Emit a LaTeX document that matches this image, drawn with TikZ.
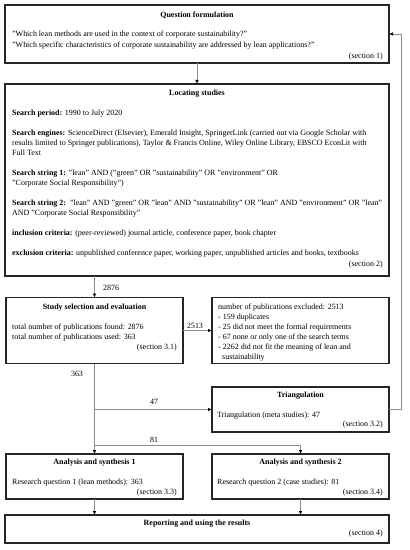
\documentclass[tikz,border=0pt]{standalone}
\usepackage{fontspec}
\setmainfont{Liberation Serif}
\usetikzlibrary{arrows.meta}
\newcommand{\figfont}{\fontsize{8.0}{10}\selectfont}
\tikzset{
 box/.style={draw=black!85, line width=1.15bp, inner sep=0pt, outer sep=0pt, anchor=north west},
 conn/.style={draw=black!45, line width=0.8bp},
 arr/.style={conn, -{Latex[length=4bp,width=3.6bp,color=black]}},
 txt/.style={inner sep=0pt, anchor=base west, font=\figfont},
 ttl/.style={inner sep=0pt, anchor=base, font=\figfont\bfseries},
 sec/.style={inner sep=0pt, anchor=base east, font=\figfont},
 lbl/.style={inner sep=0pt, anchor=base, font=\figfont},
}
\begin{document}
\begin{tikzpicture}[x=1bp,y=-1bp]
\useasboundingbox (0,0) rectangle (409,550);
% boxes
\node[box, minimum width=384bp, minimum height=58bp] (q) at (5,5) {};
\node[box, minimum width=384bp, minimum height=192bp] (loc) at (5,84) {};
\node[box, minimum width=177bp, minimum height=66bp] (sel) at (6,297.5) {};
\node[box, minimum width=177bp, minimum height=66bp] (exc) at (212,297.5) {};
\node[box, minimum width=177bp, minimum height=45bp] (tri) at (212,387) {};
\node[box, minimum width=177bp, minimum height=45bp] (an1) at (6,454) {};
\node[box, minimum width=177bp, minimum height=45bp] (an2) at (212,454) {};
\node[box, minimum width=384bp, minimum height=28bp] (rep) at (5,515) {};
% question formulation
\node[ttl] (qt) at (197,17.5) {Question formulation};
\node[txt] (q1) at (12,37) {"Which lean methods are used in the context of corporate sustainability?"};
\node[txt] (q2) at (12,47.5) {"Which specific characteristics of corporate sustainability are addressed by lean applications?"};
\node[sec] (qs) at (383,58.5) {(section 1)};
% locating studies
\node[ttl] (lt) at (197,95.5) {Locating studies};
\node[txt] (l1) at (12,115.5) {\textbf{Search period:} 1990 to July 2020};
\node[txt] (l2) at (12,135.5) {\textbf{Search engines:} ScienceDirect (Elsevier), Emerald Insight, SpringerLink (carried out via Google Scholar with};
\node[txt] (l3) at (12,145.5) {results limited to Springer publications), Taylor \& Francis Online, Wiley Online Library, EBSCO EconLit with};
\node[txt] (l4) at (12,155.5) {Full Text};
\node[txt] (l5) at (12,175.5) {\textbf{Search string 1:} "lean" AND ("green" OR "sustainability" OR "environment" OR};
\node[txt] (l6) at (12,185.5) {"Corporate Social Responsibility")};
\node[txt] (l7) at (12,205.5) {\textbf{Search string 2:}\ \ "lean" AND "green" OR "lean" AND "sustainability" OR "lean" AND "environment" OR "lean"};
\node[txt] (l8) at (12,215.5) {AND "Corporate Social Responsibility"};
\node[txt] (l9) at (12,235.5) {\textbf{inclusion criteria:} (peer-reviewed) journal article, conference paper, book chapter};
\node[txt] (l10) at (12,255.5) {\textbf{exclusion criteria:} unpublished conference paper, working paper, unpublished articles and books, textbooks};
\node[sec] (ls) at (383,266) {(section 2)};
% study selection
\node[ttl] (st) at (94.5,309.5) {Study selection and evaluation};
\node[txt] (s1) at (12,329.5) {total number of publications found: 2876};
\node[txt] (s2) at (12,339.5) {total number of publications used: 363};
\node[sec] (ss) at (177,349.5) {(section 3.1)};
% excluded
\node[txt] (e1) at (218,309.5) {number of publications excluded: 2513};
\node[txt] (e2) at (218,319.5) {- 159 duplicates};
\node[txt] (e3) at (218,329.5) {- 25 did not meet the formal requirements};
\node[txt] (e4) at (218,339.5) {- 67 none or only one of the search terms};
\node[txt] (e5) at (218,349.5) {- 2262 did not fit the meaning of lean and};
\node[txt] (e6) at (222,359.5) {sustainability};
% triangulation
\node[ttl] (tt) at (300.5,397) {Triangulation};
\node[txt] (t1) at (217,417) {Triangulation (meta studies): 47};
\node[sec] (ts) at (383,426.5) {(section 3.2)};
% analysis 1
\node[ttl] (a1t) at (94.5,464.5) {Analysis and synthesis 1};
\node[txt] (a1a) at (12,484.5) {Research question 1 (lean methods): 363};
\node[sec] (a1s) at (177,494.5) {(section 3.3)};
% analysis 2
\node[ttl] (a2t) at (300.5,464.5) {Analysis and synthesis 2};
\node[txt] (a2a) at (217,484.5) {Research question 2 (case studies): 81};
\node[sec] (a2s) at (383,494.5) {(section 3.4)};
% reporting
\node[ttl] (rt) at (197,525.5) {Reporting and using the results};
\node[sec] (rs) at (383,535.5) {(section 4)};
% connector labels
\node[txt] (n2876) at (103,290.5) {2876};
\node[lbl] (n2513) at (195,328.5) {2513};
\node[lbl] (n363) at (77,376.5) {363};
\node[lbl] (n47) at (154,404.5) {47};
\node[lbl] (n81) at (154,442.5) {81};
% connectors
\coordinate (fbx) at (401,0);
\coordinate (b47) at (95,409.5);
\coordinate (b81) at (95,445);
\draw[arr] (q.south) -- (loc.north);
\draw[arr] (sel.north |- loc.south) -- (sel.north);
\draw[arr] (sel.east) -- (exc.west);
\draw[arr] (sel.south) -- (an1.north);
\draw[arr] (b47) -- (tri.west);
\draw[arr] (b81) -- (b81 -| an2.north) -- (an2.north);
\draw[arr] (an1.south) -- (an1.south |- rep.north);
\draw[arr] (an2.south) -- (an2.south |- rep.north);
\draw[arr] (tri.east) -- (tri.east -| fbx) -- (fbx |- q.east) -- (q.east);
\end{tikzpicture}
\end{document}
